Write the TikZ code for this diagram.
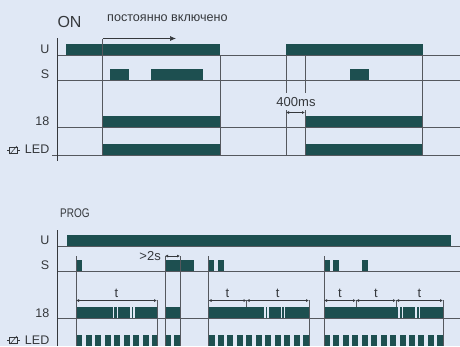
\documentclass[tikz,border=0pt]{standalone}
\usepackage{fontspec}
\setmainfont{Liberation Sans}
\newfontfamily\narrowfont[FakeStretch=0.8]{Liberation Sans}
\usetikzlibrary{arrows.meta}
\definecolor{paper}{HTML}{E0E8F5}
\definecolor{pulse}{HTML}{1D4F50}
\definecolor{ink}{HTML}{35383C}
\definecolor{rail}{HTML}{55585E}
\begin{document}
\begin{tikzpicture}[
        x=1pt, y=-1pt,
        base/.style={draw=rail, line width=0.9pt},
        riser/.style={draw=rail, line width=0.9pt},
        bar/.style={fill=pulse, draw=none},
        sig/.style={font=\fontsize{12.5}{14}\selectfont, text=ink, anchor=east, inner sep=0pt},
        span/.style={draw=ink, line width=0.6pt, {Latex[length=3pt,width=3pt]}-{Latex[length=3pt,width=3pt]}},
        note/.style={font=\fontsize{13}{15}\selectfont, text=ink, inner sep=0pt}
    ]
        \useasboundingbox[fill=paper] (0,0) rectangle (460,346);

        % upper chart
        \foreach \r/\h in {55.5/U, 80.5/S, 127.5/18, 155.5/LED} {
            \coordinate (on\h) at (57,\r);
            \coordinate (on\h end) at (460,\r);
            \draw [base] (on\h) -- (on\h end);
        }
        \draw [base] (52,155.5) -- (onLED);
        \foreach \a/\b/\c/\d in {66/220/44/55, 286/423/44/55,
                110/129/69/80, 151/203/69/80, 350/369/69/80,
                102/220/116/127, 305/422.5/116/127,
                102/220/144/155, 305/422.5/144/155}
            \fill [bar] (\a,\c) rectangle (\b,\d);
        \draw [draw=ink, line width=0.7pt] (57.5,38) -- (57.5,161);
        \foreach \x in {220,422.5} \draw [riser] (\x,55) -- (\x,155);
        \foreach \x in {286,305} {
            \draw [riser] (\x,55) -- (\x,93);
            \draw [riser] (\x,110) -- (\x,155);
        }
        \coordinate (onstart) at (102.5,155);
        \coordinate (oncorner) at (102.5,38.5);
        \coordinate (ontip) at (176,38.5);
        \draw [riser] (onstart) -- (oncorner);
        \draw [draw=ink, line width=0.7pt, -{Latex[length=6pt,width=5pt]}] (oncorner) -- (ontip);
        \draw [span] (286,112.5) -- (305,112.5);

        \node [font=\fontsize{16}{18}\selectfont, text=ink, inner sep=0pt] (ontitle) at (69.5,22) {ON};
        \node [font=\fontsize{12.6}{14}\selectfont, text=ink, inner sep=0pt, anchor=west] (onnote) at (107,18) {постоянно включено};
        \node [note] (delay) at (296,102) {400ms};
        \node [sig] (onu) at (49.5,49.5) {U};
        \node [sig] (ons) at (49.5,74) {S};
        \node [sig] (on18) at (49.5,121.5) {18};
        \node [sig] (onled) at (49.5,149.5) {LED};

        % lower chart
        \foreach \r/\h in {246.5/U, 271/S, 318.5/18} {
            \coordinate (pr\h) at (57,\r);
            \coordinate (pr\h end) at (460,\r);
            \draw [base] (pr\h) -- (pr\h end);
        }
        \foreach \a/\b/\c/\d in {67/451/235/246,
                76/82/260/271, 165/194/260/271, 208/214/260/271, 218/224/260/271,
                324/330/260/271, 333/339/260/271, 362/368/260/271,
                76/112.7/307/318, 114.3/116.5/307/318, 118/130/307/318, 131.5/133/307/318, 134.5/157/307/318,
                165/180/307/318,
                208.5/264/307/318, 265.5/267.2/307/318, 268.7/280.7/307/318, 282.2/283.8/307/318, 285.3/309/307/318,
                324/398/307/318, 400/402/307/318, 403/415/307/318, 417/419/307/318, 420/443/307/318}
            \fill [bar] (\a,\c) rectangle (\b,\d);
        \foreach \a in {76,86,95,105,114,124,133,143,152,165,174,
                208.5,218,227,237,246,256,265,275,284,294,303,
                324,333,343,352,362,371,381,390,400,409,418,428,437}
            \fill [bar] (\a,335) rectangle ++(6,11);
        \draw [draw=ink, line width=0.7pt] (57.5,230) -- (57.5,346);
        \foreach \x in {76,165,180,208.5,324} \draw [riser] (\x,256) -- (\x,346);
        \foreach \x in {157,309,443} \draw [riser] (\x,300) -- (\x,346);
        \foreach \x in {246.5,356,396} \draw [riser] (\x,300) -- (\x,307);
        \foreach \a/\b in {76/157,208.5/246.5,246.5/309,324/356,356/396,396/443}
            \draw [span] (\a,300.5) -- node [above=2.5pt, font=\fontsize{13}{15}\selectfont, text=ink, inner sep=0pt] {t} (\b,300.5);
        \draw [span] (165,256) -- (180,256);

        \node [text=ink, inner sep=0pt, anchor=west] (progtitle) at (60,213) {\narrowfont\fontsize{12.5}{14}\selectfont PROG};
        \node [note, anchor=east] (hold) at (161,256) {>2s};
        \node [sig] (pru) at (49.5,240) {U};
        \node [sig] (prs) at (49.5,265) {S};
        \node [sig] (pr18) at (49.5,313) {18};
        \node [sig] (prled) at (49.5,340) {LED};

        % relay coil symbols
        \foreach \y in {150,340} {
            \draw [draw=ink, line width=0.6pt] (9.5,\y-3) rectangle (17.5,\y+3);
            \draw [draw=ink, line width=0.6pt] (7,\y) -- (9.5,\y);
            \draw [draw=ink, line width=0.6pt] (17.5,\y) -- (20,\y);
            \draw [draw=ink, line width=0.6pt] (10,\y+4) -- (17,\y-4);
        }
    \end{tikzpicture}
\end{document}
